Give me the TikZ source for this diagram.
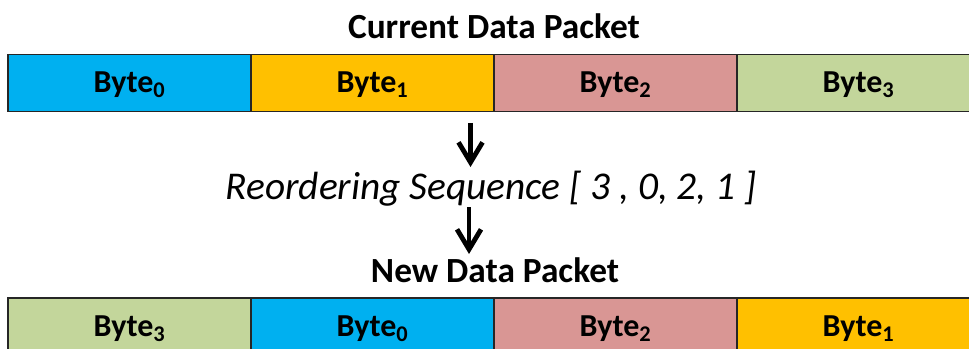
\documentclass[tikz,border=0pt]{standalone}
\usepackage{fontspec}
\setmainfont{Carlito}
\usepackage{xcolor}
\usetikzlibrary{arrows.meta,positioning}
\definecolor{bytecyan}{HTML}{00B0F0}
\definecolor{byteorange}{HTML}{FFC000}
\definecolor{bytepink}{HTML}{D99694}
\definecolor{bytegreen}{HTML}{C3D69B}

\begin{document}
\begin{tikzpicture}[x=0.75pt, y=-0.75pt,
  bytebox/.style={draw=black!85, line width=1.1pt, minimum width=182.25pt, minimum height=42.75pt, inner sep=0pt, outer sep=0pt, text height=15pt, text depth=0pt, font=\fontsize{24}{28}\selectfont\bfseries},
  title/.style={font=\fontsize{26.5}{31}\selectfont\bfseries, anchor=base, inner sep=0pt},
  seqlabel/.style={font=\fontsize{29.5}{35}\selectfont\itshape, anchor=base, inner sep=0pt},
  downarrow/.style={-{Straight Barb[length=15pt, width=18pt]}, line width=3.6pt},
]
\useasboundingbox (0,0) rectangle (969,349);

% Current packet
\node[title] (curtitle) at (494,38.5) {Current Data Packet};
\node[bytebox, fill=bytecyan] (cur0) at (129.5,83) {Byte\textsubscript{0}};
\node[bytebox, fill=byteorange, right=0pt of cur0] (cur1) {Byte\textsubscript{1}};
\node[bytebox, fill=bytepink, right=0pt of cur1] (cur2) {Byte\textsubscript{2}};
\node[bytebox, fill=bytegreen, right=0pt of cur2] (cur3) {Byte\textsubscript{3}};

% Reordering step
\coordinate (arrAtop) at (470.5,123);
\coordinate (arrAend) at (470.5,167);
\node[seqlabel] (seq) at (491,199.5) {Reordering Sequence [ 3 , 0, 2, 1 ]};
\coordinate (arrBtop) at (469,207);
\coordinate (arrBend) at (469,254);
\draw[downarrow] (arrAtop) -- (arrAend);
\draw[downarrow] (arrBtop) -- (arrBend);

% New packet
\node[title] (newtitle) at (495,282.5) {New Data Packet};
\node[bytebox, fill=bytegreen] (new0) at (129.5,326.5) {Byte\textsubscript{3}};
\node[bytebox, fill=bytecyan, right=0pt of new0] (new1) {Byte\textsubscript{0}};
\node[bytebox, fill=bytepink, right=0pt of new1] (new2) {Byte\textsubscript{2}};
\node[bytebox, fill=byteorange, right=0pt of new2] (new3) {Byte\textsubscript{1}};

\end{tikzpicture}
\end{document}
